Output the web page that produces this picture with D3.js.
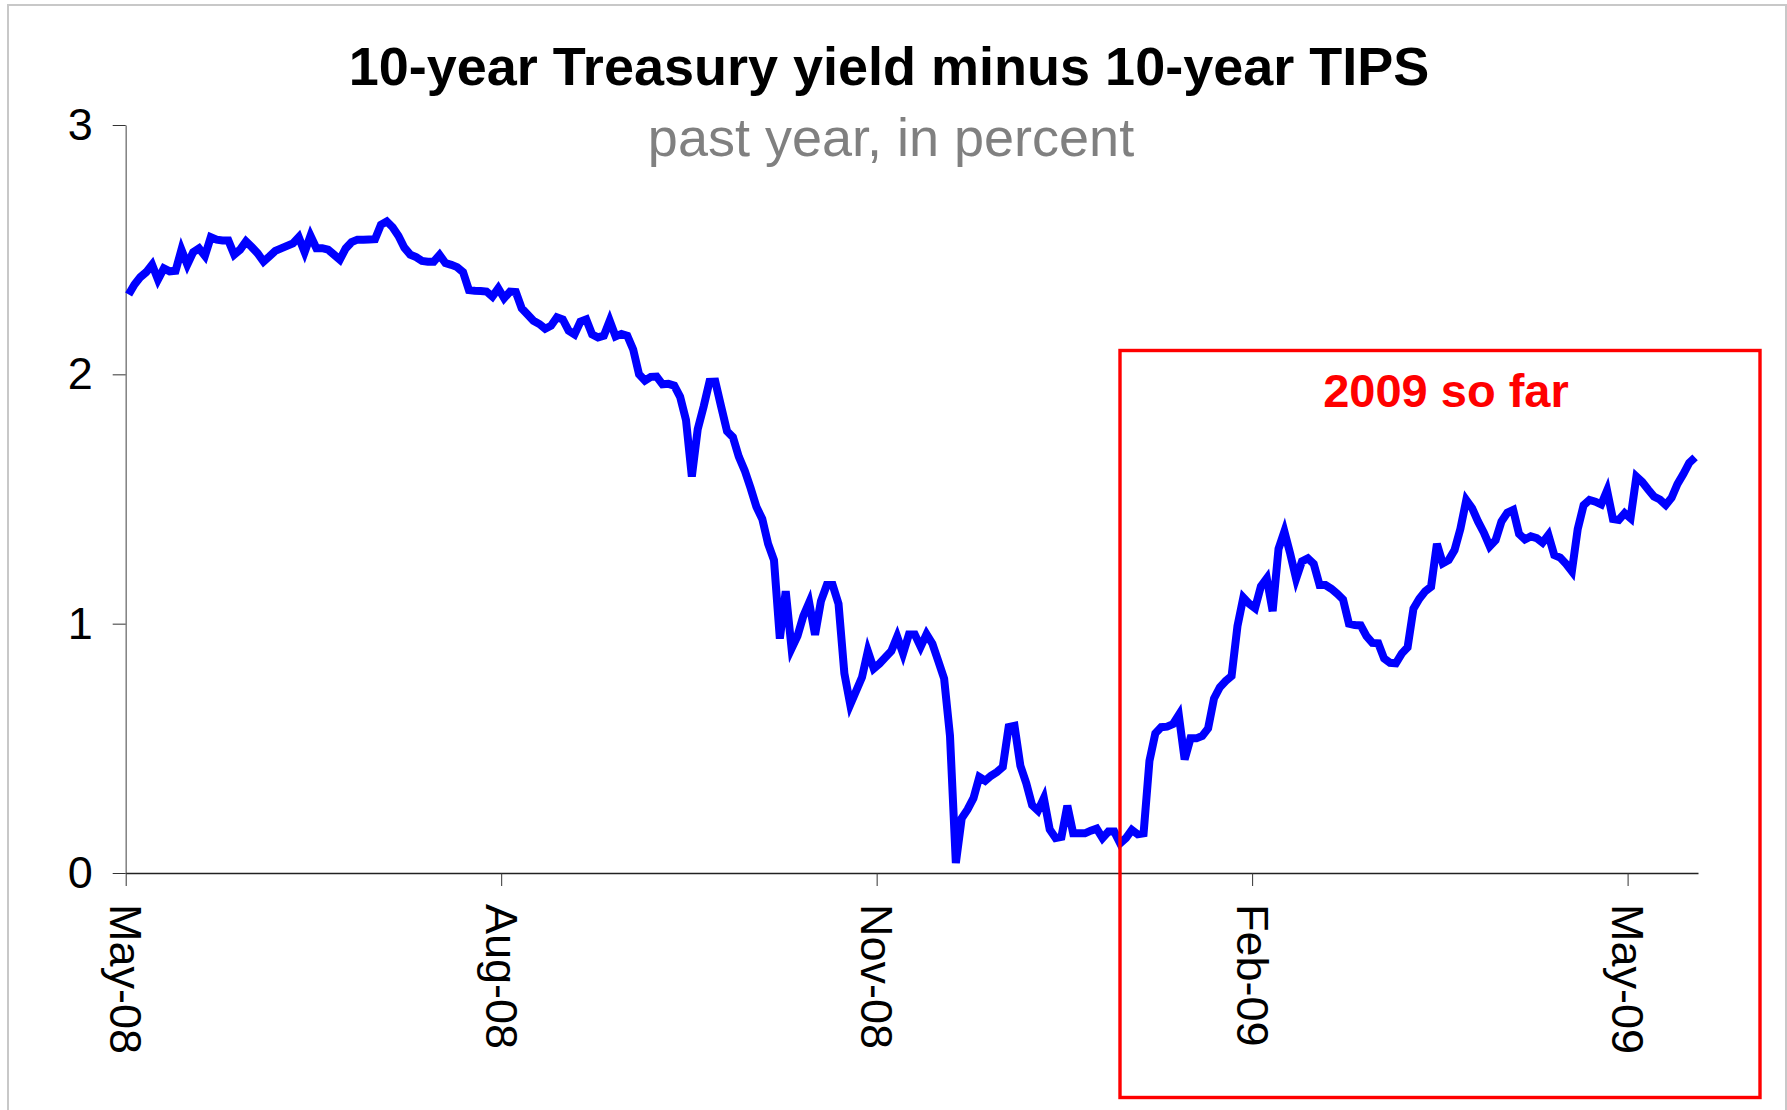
<!DOCTYPE html>
<html>
<head>
<meta charset="utf-8">
<script src="https://cdn.jsdelivr.net/npm/d3@7"></script>
<style>
	body { margin: 0; background: #fff; }
	.chart text { font-family: "Liberation Sans", Arial, sans-serif; }
</style>
</head>
<body>
<div class="chart"></div>
<script>
// 10y Treasury minus 10y TIPS, one value per trading day
var spread = [
	2.32, 2.36, 2.39, 2.41, 2.44, 2.38, 2.425, 2.413, 2.415, 2.50,
	2.44, 2.49, 2.505, 2.475, 2.55, 2.54, 2.537, 2.537, 2.48, 2.50,
	2.533, 2.51, 2.485, 2.452, 2.473, 2.495, 2.505, 2.515, 2.525, 2.55,
	2.49, 2.556, 2.506, 2.506, 2.50, 2.48, 2.46, 2.505, 2.53, 2.54,
	2.54, 2.541, 2.542, 2.60, 2.613, 2.59, 2.555, 2.508, 2.48, 2.47,
	2.455, 2.452, 2.452, 2.479, 2.446, 2.439, 2.43, 2.41, 2.338, 2.335,
	2.334, 2.332, 2.312, 2.345, 2.305, 2.332, 2.33, 2.265, 2.24, 2.215,
	2.202, 2.183, 2.195, 2.229, 2.22, 2.175, 2.16, 2.211, 2.22, 2.16,
	2.148, 2.155, 2.215, 2.152, 2.162, 2.155, 2.10, 2.0, 1.975, 1.99,
	1.991, 1.96, 1.962, 1.955, 1.91, 1.817, 1.59, 1.78, 1.87, 1.97,
	1.971, 1.87, 1.772, 1.748, 1.67, 1.615, 1.545, 1.469, 1.42, 1.32,
	1.255, 0.94, 1.13, 0.90, 0.95, 1.03, 1.085, 0.955, 1.09, 1.155,
	1.155, 1.08, 0.80, 0.675, 0.73, 0.785, 0.89, 0.82, 0.84, 0.865,
	0.89, 0.948, 0.88, 0.957, 0.957, 0.907, 0.958, 0.92, 0.85, 0.78,
	0.55, 0.04, 0.22, 0.255, 0.30, 0.385, 0.37, 0.39, 0.405, 0.425,
	0.585, 0.59, 0.43, 0.36, 0.272, 0.25, 0.30, 0.175, 0.14, 0.145,
	0.27, 0.159, 0.159, 0.159, 0.17, 0.178, 0.14, 0.166, 0.166, 0.119,
	0.14, 0.173, 0.155, 0.159, 0.45, 0.56, 0.585, 0.587, 0.597, 0.634,
	0.455, 0.54, 0.54, 0.55, 0.58, 0.70, 0.745, 0.77, 0.79, 0.99,
	1.105, 1.08, 1.062, 1.15, 1.182, 1.05, 1.30, 1.37, 1.28, 1.18,
	1.25, 1.262, 1.24, 1.155, 1.155, 1.14, 1.12, 1.097, 1.0, 0.995,
	0.993, 0.95, 0.923, 0.921, 0.86, 0.843, 0.841, 0.88, 0.905, 1.06,
	1.10, 1.13, 1.148, 1.32, 1.242, 1.255, 1.295, 1.38, 1.496, 1.463,
	1.41, 1.365, 1.31, 1.335, 1.41, 1.445, 1.456, 1.36, 1.338, 1.35,
	1.343, 1.325, 1.356, 1.275, 1.265, 1.24, 1.21, 1.38, 1.475, 1.496,
	1.489, 1.478, 1.534, 1.42, 1.416, 1.443, 1.423, 1.59, 1.568, 1.538,
	1.51, 1.498, 1.476, 1.505, 1.56, 1.60, 1.645, 1.667
];

var tickIndex = [0, 64, 128, 192, 256];
var tickLabels = ["May-08", "Aug-08", "Nov-08", "Feb-09", "May-09"];
var yTicks = [0, 1, 2, 3];

var titleText = "10-year Treasury yield minus 10-year TIPS",
	subtitleText = "past year, in percent",
	boxText = "2009 so far";

drawChart('.chart');

function drawChart(element) {
	var width = 1787,
		height = 1110,
		plot = { left: 125.7, right: 1698, top: 125, bottom: 873 };

	var svg = d3.select(element).append('svg')
		.attr('width', width)
		.attr('height', height);

	svg.append('rect')
		.attr('x', 8).attr('y', 5)
		.attr('width', 1778).attr('height', 1110)
		.attr('fill', '#fff')
		.attr('stroke', '#c8c8c8')
		.attr('stroke-width', 2);

	var x = d3.scaleLinear()
		.domain([0, spread.length])
		.range([plot.left, plot.right]);

	var y = d3.scaleLinear()
		.domain([0, 3])
		.range([plot.bottom, plot.top]);

	svg.append('text')
		.attr('x', 889).attr('y', 85)
		.attr('text-anchor', 'middle')
		.style('font-size', '54px')
		.style('font-weight', 'bold')
		.attr('fill', '#000')
		.text(titleText);

	svg.append('text')
		.attr('x', 891).attr('y', 156)
		.attr('text-anchor', 'middle')
		.style('font-size', '54px')
		.attr('fill', '#808080')
		.text(subtitleText);

	// y axis
	var gy = svg.append('g')
		.attr('transform', 'translate(' + plot.left + ',0)')
		.call(d3.axisLeft(y)
			.tickValues(yTicks)
			.tickFormat(d3.format('d'))
			.tickSize(13)
			.tickSizeOuter(0)
			.tickPadding(20));

	gy.select('.domain').attr('stroke', '#808080').attr('stroke-width', 1.5);
	gy.selectAll('.tick line').attr('stroke', '#333');
	gy.selectAll('.tick text')
		.style('font-size', '45px')
		.style('font-family', '"Liberation Sans", Arial, sans-serif')
		.attr('fill', '#000');

	// x axis
	var gx = svg.append('g')
		.attr('transform', 'translate(0,' + plot.bottom + ')')
		.call(d3.axisBottom(x)
			.tickValues(tickIndex)
			.tickFormat(function(d, i) { return tickLabels[i]; })
			.tickSize(13)
			.tickSizeOuter(0));

	gx.select('.domain').attr('stroke', '#222').attr('stroke-width', 1.3);
	gx.selectAll('.tick line').attr('stroke', '#333');
	gx.selectAll('.tick text')
		.attr('y', 0)
		.attr('x', 0)
		.attr('dy', '0.35em')
		.attr('transform', 'translate(0,31) rotate(90)')
		.style('text-anchor', 'start')
		.style('font-size', '45px')
		.style('font-family', '"Liberation Sans", Arial, sans-serif')
		.attr('fill', '#000');

	var line = d3.line()
		.x(function(d, i) { return x(i + 0.5); })
		.y(function(d) { return y(d); });

	svg.append('path')
		.datum(spread)
		.attr('d', line)
		.attr('fill', 'none')
		.attr('stroke', '#0000ff')
		.attr('stroke-width', 8)
		.attr('stroke-linejoin', 'miter')
		.attr('stroke-linecap', 'butt');

	// "2009 so far" box
	svg.append('rect')
		.attr('x', 1120).attr('y', 350.5)
		.attr('width', 640).attr('height', 747)
		.attr('fill', 'none')
		.attr('stroke', '#ff0000')
		.attr('stroke-width', 3.4);

	svg.append('text')
		.attr('x', 1446).attr('y', 407)
		.attr('text-anchor', 'middle')
		.style('font-size', '47px')
		.style('font-weight', 'bold')
		.attr('fill', '#ff0000')
		.text(boxText);
}
</script>
</body>
</html>
